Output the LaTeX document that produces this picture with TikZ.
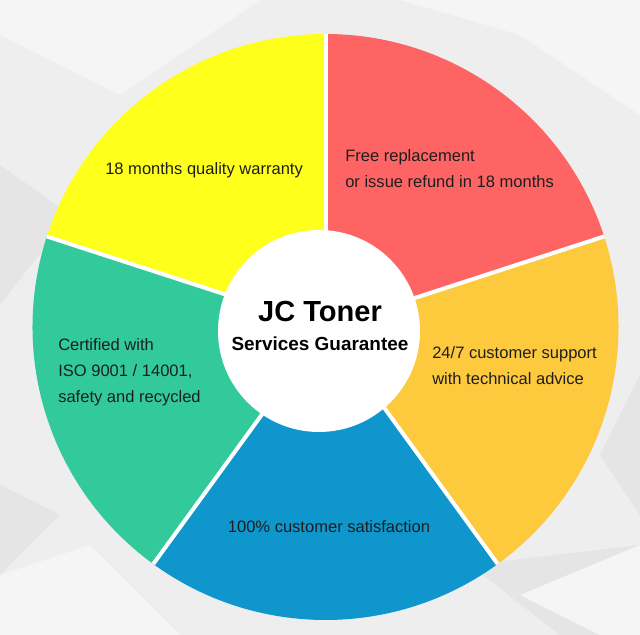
\documentclass[tikz,border=0pt]{standalone}
\usepackage{fontspec}
\setmainfont{Liberation Sans}
\usepackage{tikz}
\usepackage{xcolor}
\usetikzlibrary{positioning}

\definecolor{bgGray}{RGB}{238,238,238}
\definecolor{bgLight}{RGB}{245,245,245}
\definecolor{bgDark}{RGB}{229,229,229}
\definecolor{pieYellow}{RGB}{255,255,28}
\definecolor{pieRed}{RGB}{255,100,100}
\definecolor{pieOrange}{RGB}{253,202,62}
\definecolor{pieBlue}{RGB}{14,150,205}
\definecolor{pieGreen}{RGB}{50,202,154}
\definecolor{txtDark}{RGB}{30,30,30}

\tikzset{
    lbl/.style={anchor=base west, inner sep=0pt, text=txtDark, font=\fontsize{12.4}{15}\selectfont},
    hubtext/.style={anchor=base, inner sep=0pt, text=black, font=\bfseries}
}

\begin{document}
\begin{tikzpicture}[x=0.75pt,y=0.75pt]
\useasboundingbox (0,0) rectangle (640,635);
% background facets
\fill[bgGray] (0,0) rectangle (640,635);
\fill[bgLight] (0,635) -- (260,635) -- (120,540) -- (0,600) -- cycle;
\fill[bgLight] (400,635) -- (640,635) -- (640,520) -- (520,600) -- cycle;
\fill[bgDark] (0,470) -- (70,420) -- (0,330) -- cycle;
\fill[bgLight] (0,0) -- (180,0) -- (90,90) -- (0,60) -- cycle;
\fill[bgDark] (470,70) -- (560,0) -- (640,0) -- (640,90) -- cycle;
\fill[bgLight] (520,40) -- (640,90) -- (640,0) -- (600,0) -- cycle;
\fill[bgDark] (600,180) -- (640,120) -- (640,260) -- cycle;
\fill[bgDark] (0,150) -- (60,120) -- (0,60) -- cycle;

% pie sectors
\coordinate (C) at (325.5,308);
\foreach \a/\col in {90/pieYellow,18/pieRed,-54/pieOrange,234/pieBlue,162/pieGreen} {
    \fill[\col] (C) -- ++(\a:219.75pt) arc[start angle=\a, delta angle=72, radius=219.75pt] -- cycle;
}
\foreach \a in {90,18,-54,-126,162} {
    \draw[white, line width=3pt] (C) -- ++(\a:219.75pt);
}

% centre
\node[circle, fill=white, minimum size=151.5pt, inner sep=0pt] (hub) at (319,304) {};
\node[hubtext, font=\bfseries\fontsize{21.8}{26}\selectfont] (title) at (320,313) {JC Toner};
\node[hubtext, font=\bfseries\fontsize{14.2}{17}\selectfont] (subtitle) at (320,284) {Services Guarantee};

% labels
\node[lbl] (warranty) at (105,460) {18 months quality warranty};
\foreach \y/\lab in {473/Free replacement,447/or issue refund in 18 months} {
    \node[lbl] (refund\y) at (345,\y) {\lab};
}
\foreach \y/\lab in {284/Certified with,258/{ISO 9001 / 14001,},232/safety and recycled} {
    \node[lbl] (iso\y) at (58,\y) {\lab};
}
\foreach \y/\lab in {276/{24/7 customer support},250/with technical advice} {
    \node[lbl] (support\y) at (432,\y) {\lab};
}
\node[lbl, anchor=base] (satisfaction) at (329,102) {100\% customer satisfaction};
\end{tikzpicture}
\end{document}
